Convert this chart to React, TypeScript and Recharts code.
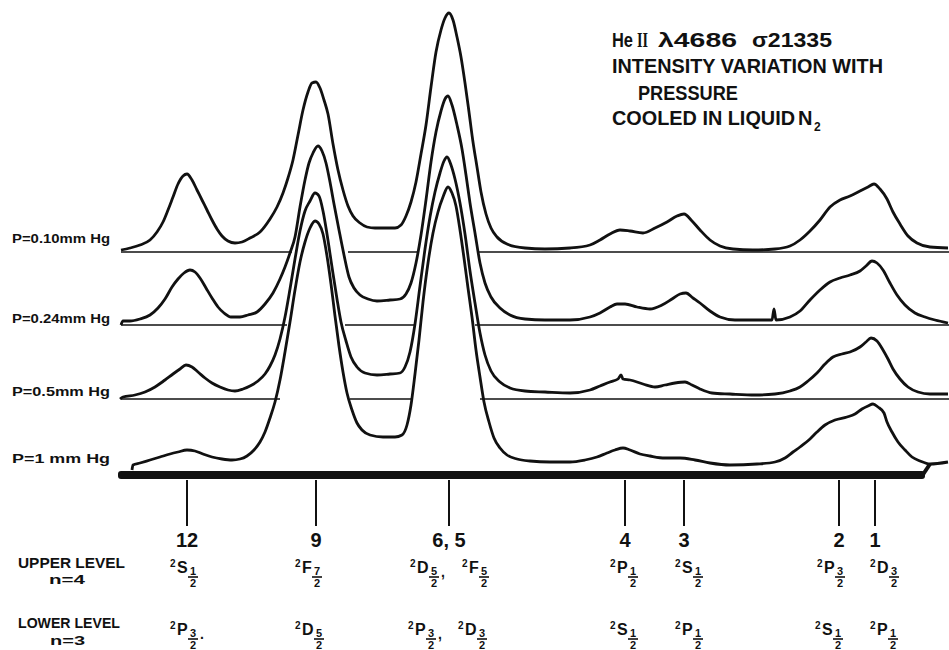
import React from 'react';
import { LineChart, Line, XAxis, YAxis, ReferenceLine, ReferenceArea } from 'recharts';

const FONT = '"Liberation Sans", Arial, sans-serif';
const INK = '#111';

// scan position vs. recorded intensity, measured from each trace's own zero line
const trace010: [number, number][] = [
  [121, 2], [130, 4], [140, 7], [150, 12], [157, 20], [163, 30], [168, 42], [173, 55], [178, 68], [183, 76],
  [187, 78], [192, 72], [197, 62], [202, 52], [207, 42], [212, 32], [217, 23], [222, 16], [228, 11], [235, 9],
  [242, 10], [250, 14], [260, 20], [270, 33], [277, 45], [283, 59], [288, 74], [293, 92], [298, 117], [303, 142],
  [308, 160], [312, 169], [316, 170], [320, 164], [324, 152], [328, 138], [333, 108], [338, 82], [343, 62], [348, 46],
  [353, 36], [360, 29], [367, 25], [375, 24], [385, 24], [395, 24], [401, 27], [406, 36], [411, 50], [416, 70],
  [421, 98], [426, 127], [431, 165], [436, 200], [441, 222], [445, 234], [449, 239], [453, 232], [457, 215], [461, 195],
  [465, 169], [469, 140], [473, 110], [477, 85], [481, 60], [486, 38], [491, 24], [497, 15], [507, 8], [525, 4],
  [545, 3], [570, 4], [590, 7], [600, 12], [610, 18], [620, 22], [630, 21], [643, 19], [655, 24], [667, 30],
  [677, 36], [684, 38], [692, 31], [700, 22], [710, 12], [720, 6], [733, 3], [753, 2], [775, 3], [790, 6],
  [800, 12], [810, 21], [820, 32], [830, 45], [840, 52], [850, 56], [860, 61], [868, 65], [874, 68], [880, 63],
  [887, 53], [893, 40], [900, 28], [908, 16], [917, 9], [930, 5], [948, 4],
];

const trace024: [number, number][] = [
  [121, 0], [123, 4], [130, 4], [140, 6], [150, 10], [158, 17], [165, 26], [172, 38], [178, 46], [184, 52],
  [190, 55], [195, 53], [200, 47], [206, 37], [212, 27], [218, 18], [224, 12], [231, 8], [240, 8], [248, 10],
  [257, 13], [265, 21], [273, 32], [280, 46], [285, 58], [290, 72], [295, 88], [300, 118], [305, 145], [309, 162],
  [313, 172], [318, 179], [322, 174], [326, 162], [330, 143], [334, 121], [339, 95], [344, 70], [349, 48], [354, 37],
  [360, 30], [368, 26], [377, 24], [390, 25], [400, 26], [406, 31], [411, 42], [416, 62], [421, 90], [426, 125],
  [431, 163], [436, 193], [441, 214], [445, 226], [448, 229], [452, 220], [457, 200], [462, 176], [466, 150], [470, 122],
  [475, 92], [480, 62], [485, 42], [491, 28], [500, 17], [510, 10], [525, 6], [545, 5], [570, 5], [590, 8],
  [600, 12], [610, 18], [617, 21], [625, 21], [637, 18], [650, 16], [662, 20], [672, 26], [680, 31], [686, 32],
  [693, 27], [700, 22], [710, 14], [720, 8], [735, 5], [755, 5], [772, 5], [774, 16], [776, 5], [790, 8],
  [800, 14], [810, 25], [820, 35], [830, 43], [840, 47], [850, 50], [860, 54], [866, 59], [872, 64], [877, 62],
  [883, 55], [890, 42], [897, 30], [905, 20], [915, 12], [925, 8], [935, 5], [948, 2],
];

const trace05: [number, number][] = [
  [120, 0], [123, 2], [135, 4], [145, 7], [155, 12], [165, 19], [173, 25], [180, 30], [186, 34], [192, 32],
  [198, 27], [205, 21], [212, 16], [220, 12], [228, 9], [235, 8], [243, 10], [250, 13], [258, 18], [265, 25],
  [270, 33], [275, 44], [280, 60], [285, 82], [290, 110], [295, 140], [300, 168], [305, 188], [310, 198], [315, 206],
  [319, 203], [323, 188], [327, 165], [332, 132], [337, 100], [341, 77], [346, 58], [351, 42], [357, 32], [365, 26],
  [377, 24], [390, 25], [400, 26], [405, 32], [410, 47], [415, 75], [420, 113], [425, 150], [430, 182], [435, 207],
  [440, 226], [444, 238], [447, 242], [451, 234], [455, 220], [460, 196], [465, 165], [470, 128], [475, 96], [480, 66],
  [485, 44], [491, 28], [500, 17], [510, 11], [525, 8], [545, 7], [570, 6], [590, 9], [600, 13], [610, 17],
  [618, 20], [621, 24], [623, 20], [630, 19], [643, 15], [655, 12], [665, 14], [675, 16], [685, 17], [692, 14],
  [700, 10], [712, 6], [730, 5], [755, 4], [775, 5], [790, 8], [800, 12], [808, 18], [817, 26], [825, 35],
  [833, 42], [842, 45], [850, 47], [860, 52], [866, 57], [871, 61], [877, 58], [883, 49], [888, 40], [893, 30],
  [900, 20], [908, 12], [918, 7], [930, 5], [948, 5],
];

const trace1: [number, number][] = [
  [132, 0], [133, 5], [140, 7], [150, 10], [160, 13], [170, 16], [178, 18], [187, 20], [195, 19], [203, 16],
  [212, 13], [222, 11], [232, 10], [240, 11], [247, 14], [254, 20], [260, 28], [265, 38], [270, 52], [275, 68],
  [280, 90], [285, 118], [290, 148], [295, 180], [300, 208], [305, 228], [310, 242], [315, 249], [319, 246], [323, 236],
  [327, 214], [331, 186], [335, 154], [339, 124], [343, 98], [347, 77], [352, 60], [357, 47], [362, 40], [370, 35],
  [383, 33], [395, 33], [402, 35], [407, 45], [411, 65], [415, 96], [419, 130], [423, 168], [428, 207], [433, 237],
  [438, 258], [443, 273], [448, 283], [452, 277], [456, 264], [460, 240], [464, 212], [468, 182], [472, 153], [476, 120],
  [480, 93], [484, 68], [489, 48], [494, 32], [500, 22], [507, 15], [517, 11], [530, 9], [550, 8], [570, 8],
  [585, 10], [597, 13], [607, 17], [615, 20], [623, 22], [630, 20], [640, 16], [650, 14], [665, 12], [680, 12],
  [695, 10], [710, 7], [730, 5], [757, 6], [775, 8], [785, 12], [793, 18], [800, 23], [810, 31], [817, 38],
  [825, 45], [835, 50], [847, 53], [855, 56], [862, 61], [868, 64], [873, 66], [878, 63], [884, 57], [887, 48],
  [892, 38], [898, 28], [905, 20], [912, 13], [920, 9], [930, 6], [948, 8],
];

const traces = [trace010, trace024, trace05, trace1];
const pressureLabels = ['P=0.10mm  Hg', 'P=0.24mm  Hg', 'P=0.5mm  Hg', 'P=1  mm  Hg'];
// vertical offset of each trace's zero line (same units as intensity)
const traceOffsets = [218, 145, 71, 0];
// stretches where the zero lines of the upper three traces are broken off
const zeroLineGaps: [number, number][][] = [
  [[292, 348], [418, 477]],
  [[287, 345], [415, 475]],
  [[280, 350], [412, 480]],
];
const zeroLineSpan: [number, number] = [121, 949];

// component lines
const lineLabels = ['12', '9', '6, 5', '4', '3', '2', '1'];
const linePositions = [187, 316, 449, 625, 684, 839, 875];
// [letter, numerator of J, trailing mark]
const upperTerms: [string, string, string][][] = [
  [['S', '1', '']],
  [['F', '7', '']],
  [['D', '5', ','], ['F', '5', '']],
  [['P', '1', '']],
  [['S', '1', '']],
  [['P', '3', '']],
  [['D', '3', '']],
];
const lowerTerms: [string, string, string][][] = [
  [['P', '3', '.']],
  [['D', '5', '']],
  [['P', '3', ','], ['D', '3', '']],
  [['S', '1', '']],
  [['P', '1', '']],
  [['S', '1', '']],
  [['P', '1', '']],
];

const UPPER_DX = [[-17], [-21], [-39, 13], [-15], [-9], [-22], [-5]];
const LOWER_DX = [[-17], [-21], [-41, 9], [-15], [-9], [-24], [-5]];
const LETTER_W: Record<string, number> = { S: 11, P: 11, D: 12, F: 10 };

const Term = ({ x, y, t }: { x: number; y: number; t: [string, string, string] }) => {
  const [letter, num, trail] = t;
  const fx = x + 7 + (LETTER_W[letter] || 11) + 5;
  return (
    <g>
      <text x={x} y={y - 6} fontSize={10}>2</text>
      <text x={x + 7} y={y} fontSize={16}>{letter}</text>
      <text x={fx} y={y + 2} fontSize={11} textAnchor="middle">{num}</text>
      <line x1={fx - 5} x2={fx + 5} y1={y + 4} y2={y + 4} stroke={INK} strokeWidth={1.6} />
      <text x={fx} y={y + 14} fontSize={11} textAnchor="middle">2</text>
      {trail && <text x={fx + 7} y={y + 4} fontSize={14}>{trail}</text>}
    </g>
  );
};

const LineTick = (props: any) => {
  const { x, y, payload } = props;
  const i = linePositions.indexOf(payload.value);
  if (i < 0) return null;
  return (
    <g fill={INK} fontFamily={FONT} fontWeight={700}>
      <text x={x} y={y + 21} fontSize={20} textAnchor="middle">{lineLabels[i]}</text>
      {upperTerms[i].map((t, k) => (
        <Term key={'u' + k} x={x + UPPER_DX[i][k]} y={y + 47} t={t} />
      ))}
      {lowerTerms[i].map((t, k) => (
        <Term key={'l' + k} x={x + LOWER_DX[i][k]} y={y + 109} t={t} />
      ))}
    </g>
  );
};

const zeroSegments = (gaps: [number, number][]) => {
  const segs: [number, number][] = [];
  let start = zeroLineSpan[0];
  gaps.forEach(([a, b]) => {
    segs.push([start, a]);
    start = b;
  });
  segs.push([start, zeroLineSpan[1]]);
  return segs;
};

export default function App() {
  const series = traces.map((tr, i) => tr.map(([x, h]) => ({ x, y: h + traceOffsets[i] })));

  return (
    <div style={{ position: 'absolute', left: 0, top: 0, width: 949, height: 650, background: '#fff' }}>
      <LineChart width={949} height={650} margin={{ top: 0, right: 0, bottom: 140, left: 118 }}>
        <XAxis
          type="number"
          dataKey="x"
          domain={[118, 949]}
          allowDataOverflow
          ticks={linePositions}
          interval={0}
          axisLine={false}
          tickSize={46}
          tickMargin={0}
          tickLine={{ stroke: INK, strokeWidth: 2 }}
          tick={<LineTick />}
        />
        <YAxis type="number" domain={[-10, 470]} allowDataOverflow hide />
        <ReferenceArea x1={118} x2={925} y1={-9} y2={-1} fill={INK} fillOpacity={1} stroke="none" radius={3} />
        <ReferenceLine segment={[{ x: 922, y: -6 }, { x: 930, y: 6 }]} stroke={INK} strokeWidth={4} />
        {zeroLineGaps.map((gaps, i) =>
          zeroSegments(gaps).map(([a, b], k) => (
            <ReferenceLine
              key={`z${i}-${k}`}
              segment={[{ x: a, y: traceOffsets[i] }, { x: b, y: traceOffsets[i] }]}
              stroke={INK}
              strokeWidth={1.3}
            />
          ))
        )}
        {series.map((d, i) => (
          <Line
            key={pressureLabels[i]}
            data={d}
            dataKey="y"
            type="monotone"
            stroke={INK}
            strokeWidth={2.8}
            dot={false}
            activeDot={false}
            isAnimationActive={false}
          />
        ))}
      </LineChart>
      <svg
        width={949}
        height={650}
        style={{ position: 'absolute', left: 0, top: 0, pointerEvents: 'none' }}
        fontFamily={FONT}
        fill={INK}
      >
        <g fontSize={20} fontWeight={700}>
          <text x={612} y={47} textLength={21} lengthAdjust="spacingAndGlyphs">He</text>
          <text x={637} y={47} fontFamily='"Liberation Serif", serif' textLength={11} lengthAdjust="spacingAndGlyphs">II</text>
          <text x={658} y={47} textLength={79} lengthAdjust="spacingAndGlyphs">λ4686</text>
          <text x={752} y={47} textLength={80} lengthAdjust="spacingAndGlyphs">σ21335</text>
          <text x={612} y={73} textLength={271} lengthAdjust="spacingAndGlyphs">INTENSITY VARIATION WITH</text>
          <text x={638} y={100} textLength={100} lengthAdjust="spacingAndGlyphs">PRESSURE</text>
          <text x={612} y={125} textLength={183} lengthAdjust="spacingAndGlyphs">COOLED IN LIQUID</text>
          <text x={798} y={125}>N</text>
          <text x={814} y={131} fontSize={12}>2</text>
        </g>
        <g fontSize={13} fontWeight={700}>
          {pressureLabels.map((p, i) => (
            <text key={p} x={12} y={[243, 323, 396, 463][i]} textLength={98} lengthAdjust="spacingAndGlyphs">
              {p}
            </text>
          ))}
        </g>
        <g fontSize={15} fontWeight={700}>
          <text x={18} y={568} textLength={107} lengthAdjust="spacingAndGlyphs">UPPER LEVEL</text>
          <text x={49} y={584} fontSize={13} textLength={36} lengthAdjust="spacingAndGlyphs">n=4</text>
          <text x={18} y={628} textLength={102} lengthAdjust="spacingAndGlyphs">LOWER LEVEL</text>
          <text x={50} y={645} fontSize={13} textLength={35} lengthAdjust="spacingAndGlyphs">n=3</text>
        </g>
      </svg>
    </div>
  );
}
